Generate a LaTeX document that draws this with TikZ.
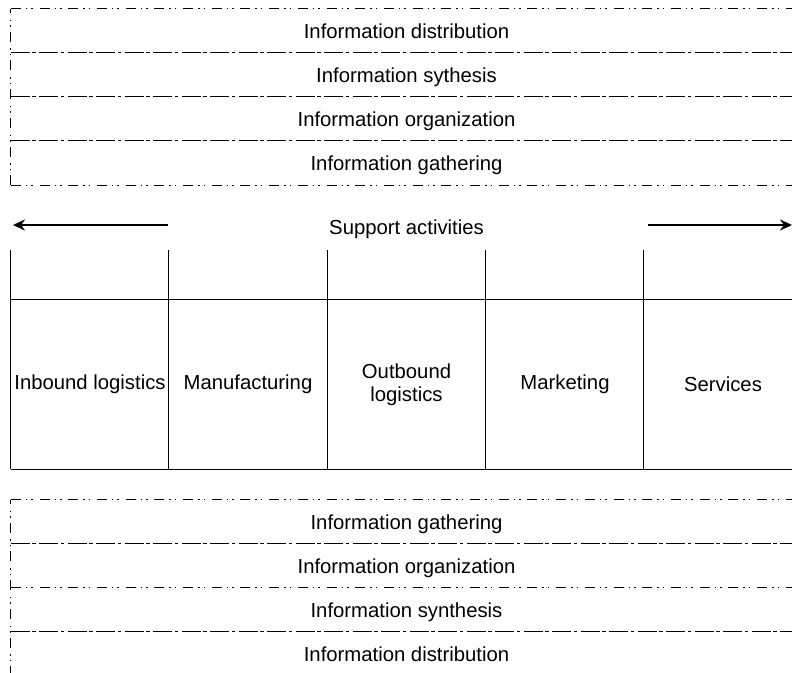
\documentclass[tikz,border=0pt]{standalone}
\usepackage{fontspec}
\setmainfont{Liberation Sans}
\usetikzlibrary{arrows.meta}
\begin{document}
\begin{tikzpicture}[x=1pt,y=-1pt,
  every node/.style={font=\fontsize{20.3}{23.5}\selectfont, inner sep=0pt},
  fixtext/.style={text height=15.2pt, text depth=0.4pt},
  band/.style={fixtext, minimum width=791pt, minimum height=44pt, inner sep=0pt},
  cell/.style={minimum width=158pt, minimum height=169pt, inner sep=0pt, align=center},
  borderline/.style={line width=1.1pt, dash pattern=on 10pt off 5pt on 1.5pt off 4pt on 1.5pt off 6.7pt},
  sepline/.style={line width=1.1pt, dash pattern=on 19pt off 2.5pt on 3.5pt off 3.5pt},
  tableline/.style={line width=1.2pt},
  bigarrow/.style={line width=2.8pt, -{Stealth[length=12pt,width=11pt]}}
]
\useasboundingbox (0,0) rectangle (792,672);

% top block
\node[band] (t1) at (406.5,31) {Information distribution};
\node[band] (t2) at (406.5,75) {Information sythesis};
\node[band] (t3) at (406.5,119) {Information organization};
\node[band] (t4) at (406.5,163) {Information gathering};
\draw[borderline] (t1.north west) -- (t1.north east);
\draw[sepline] (t2.north west) -- (t2.north east);
\draw[sepline] (t3.north west) -- (t3.north east);
\draw[sepline] (t4.north west) -- (t4.north east);
\draw[borderline] (t4.south west) -- (t4.south east);
\draw[borderline] (t4.south west) -- (t1.north west);

% support activities
\node[fixtext] (sa) at (406.5,227) {Support activities};
\coordinate (la) at (13,225);
\coordinate (ra) at (792,225);
\coordinate (las) at (168,225);
\coordinate (ras) at (648,225);
\draw[bigarrow] (las) -- (la);
\draw[bigarrow] (ras) -- (ra);

% table
\node[cell] (c1) at (90,384.5) {Inbound logistics};
\node[cell] (c2) at (248,384.5) {Manufacturing};
\node[cell] (c3) at (406.5,384.5) {Outbound\\logistics};
\node[cell] (c4) at (565,384.5) {Marketing};
\node[cell] (c5) at (723,384.5) {Services};
\draw[tableline] (c1.north west) -- (c5.north east);
\draw[tableline] (c1.south west) -- (c5.south east);
\foreach \c in {c1,c2,c3,c4,c5}{
  \draw[tableline] ([yshift=50pt]\c.north west) -- (\c.south west);
}

% bottom block
\node[band] (b1) at (406.5,522) {Information gathering};
\node[band] (b2) at (406.5,566) {Information organization};
\node[band] (b3) at (406.5,610) {Information synthesis};
\node[band] (b4) at (406.5,654) {Information distribution};
\draw[borderline] (b1.north west) -- (b1.north east);
\draw[sepline] (b2.north west) -- (b2.north east);
\draw[borderline] (b3.north west) -- (b3.north east);
\draw[sepline] (b4.north west) -- (b4.north east);
\draw[borderline] (b4.south west) -- (b1.north west);
\end{tikzpicture}
\end{document}
